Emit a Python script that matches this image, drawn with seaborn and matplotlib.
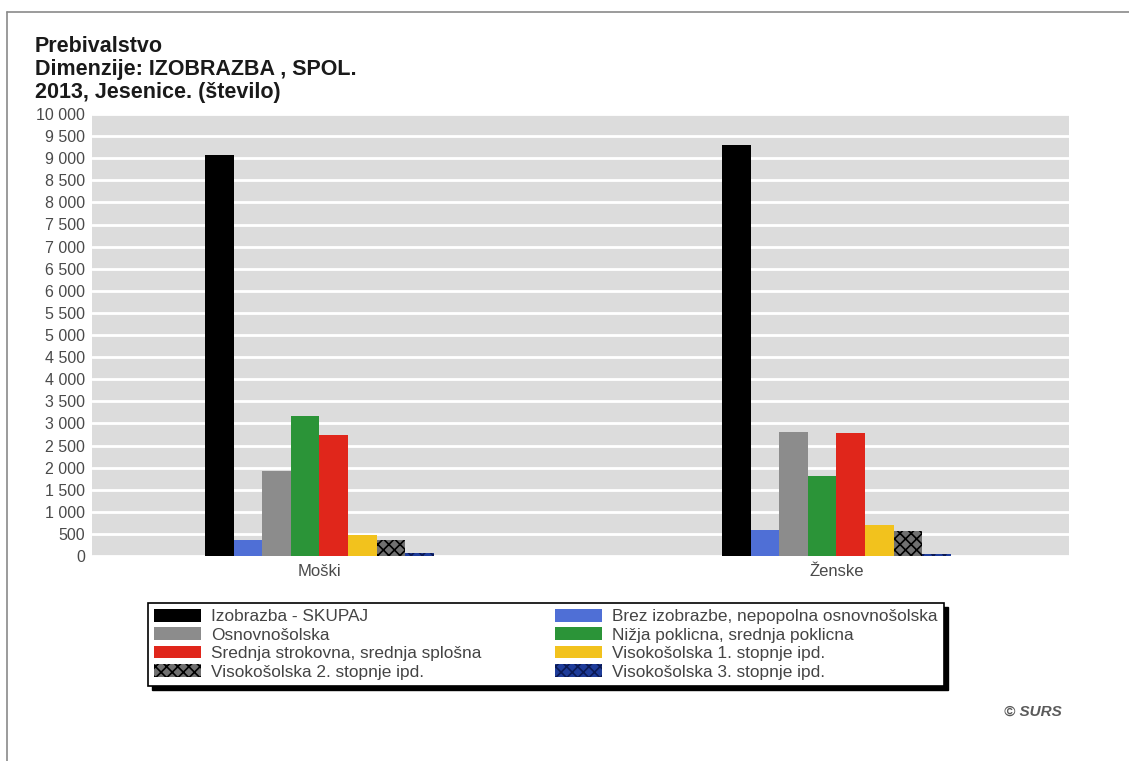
import matplotlib
matplotlib.use("Agg")
import matplotlib.pyplot as plt
import seaborn as sns
import pandas as pd
from matplotlib.patches import Patch, Rectangle
from matplotlib.lines import Line2D
from matplotlib.ticker import FuncFormatter, MultipleLocator

# Data: population of Jesenice by education level and sex, 2013
spol = ["Moški", "Ženske"]
izobrazba = [
    "Izobrazba - SKUPAJ",
    "Brez izobrazbe, nepopolna osnovnošolska",
    "Osnovnošolska",
    "Nižja poklicna, srednja poklicna",
    "Srednja strokovna, srednja splošna",
    "Visokošolska 1. stopnje ipd.",
    "Visokošolska 2. stopnje ipd.",
    "Visokošolska 3. stopnje ipd.",
]
moski = [9075, 370, 1925, 3170, 2745, 480, 360, 65]
zenske = [9300, 590, 2800, 1810, 2780, 700, 560, 40]

barve = ["#000000", "#4f6fd6", "#8c8c8c", "#2b9438", "#e0261b",
         "#f2c21d", "#707070", "#1e3c9a"]
robovi = ["#000000", "#4f6fd6", "#8c8c8c", "#2b9438", "#e0261b",
          "#f2c21d", "#000000", "#0b1a55"]
vzorci = [None, None, None, None, None, None, "xxx", "xxx"]

rows = []
for s, vals in zip(spol, [moski, zenske]):
    for iz, v in zip(izobrazba, vals):
        rows.append({"spol": s, "izobrazba": iz, "stevilo": v})
df = pd.DataFrame(rows)

sns.set_style("white")
plt.rcParams["font.family"] = ["Liberation Sans", "DejaVu Sans"]
plt.rcParams["hatch.linewidth"] = 1.2

fig = plt.figure(figsize=(11.29, 7.61), dpi=100)
ax = fig.add_axes([92 / 1129, 1 - 556 / 761, (1069 - 92) / 1129, (556 - 114) / 761])

sns.barplot(data=df, x="spol", y="stevilo", hue="izobrazba",
            hue_order=izobrazba, order=spol, palette=barve,
            width=0.443, saturation=1, legend=False, ax=ax, zorder=3)

for cont, fc, ec, h in zip(ax.containers, barve, robovi, vzorci):
    for bar in cont:
        bar.set_facecolor(fc)
        bar.set_edgecolor(ec)
        bar.set_linewidth(0)
        if h:
            bar.set_hatch(h)

ax.set_facecolor("#dcdcdc")
ax.set_ylim(0, 10000)
ax.set_xlim(-0.44, 1.45)
ax.yaxis.set_major_locator(MultipleLocator(500))
ax.yaxis.set_major_formatter(FuncFormatter(lambda v, p: f"{int(v):,}".replace(",", " ")))
ax.grid(axis="y", color="white", linewidth=2, zorder=0)
ax.set_axisbelow(True)
for sp in ax.spines.values():
    sp.set_visible(False)
ax.tick_params(axis="both", length=0, colors="#4a4a4a")
ax.tick_params(axis="y", pad=5, labelsize=11.5)
ax.tick_params(axis="x", pad=6, labelsize=12)
ax.set_xlabel("")
ax.set_ylabel("")

# Title block
fig.text(35 / 1129, 1 - 36 / 761,
         "Prebivalstvo\nDimenzije: IZOBRAZBA , SPOL.\n2013, Jesenice. (število)",
         ha="left", va="top", fontsize=15.5, fontweight="bold",
         color="#1a1a1a", linespacing=1.14)

# Legend laid out row by row in two columns
handles = [Patch(facecolor=fc, edgecolor=ec if h else fc, hatch=h, linewidth=0)
           for fc, ec, h in zip(barve, robovi, vzorci)]
order = [0, 2, 4, 6, 1, 3, 5, 7]
leg = fig.legend([handles[i] for i in order], [izobrazba[i] for i in order],
                 ncol=2, loc="upper left",
                 bbox_to_anchor=(148 / 1129, 1 - 603 / 761),
                 fontsize=12.4, frameon=True, fancybox=False, shadow=False,
                 framealpha=1, facecolor="white",
                 handlelength=2.7, handleheight=0.75, handletextpad=0.6,
                 labelspacing=0.18, columnspacing=4.3, borderpad=0.35,
                 borderaxespad=0)
leg.get_frame().set_edgecolor("black")
leg.get_frame().set_linewidth(1.2)
for t in leg.get_texts():
    t.set_color("#444444")
leg.set_zorder(6)

fig.canvas.draw()
bb = leg.get_window_extent()
fig.patches.append(Rectangle((bb.x0 + 4, bb.y0 - 4), bb.width, bb.height,
                             transform=None, facecolor="black",
                             edgecolor="black", zorder=5))

# Outer frame lines
fig.add_artist(Line2D([7 / 1129, 1], [1 - 12 / 761, 1 - 12 / 761],
                      color="#8a8a8a", linewidth=1.2))
fig.add_artist(Line2D([7 / 1129, 7 / 1129], [0, 1 - 12 / 761],
                      color="#8a8a8a", linewidth=1.2))

fig.text(1062 / 1129, 1 - 712 / 761, "© SURS", ha="right", va="center",
         fontsize=11, style="italic", fontweight="bold", color="#5a5a5a")

fig.savefig("out.png", dpi=100)
